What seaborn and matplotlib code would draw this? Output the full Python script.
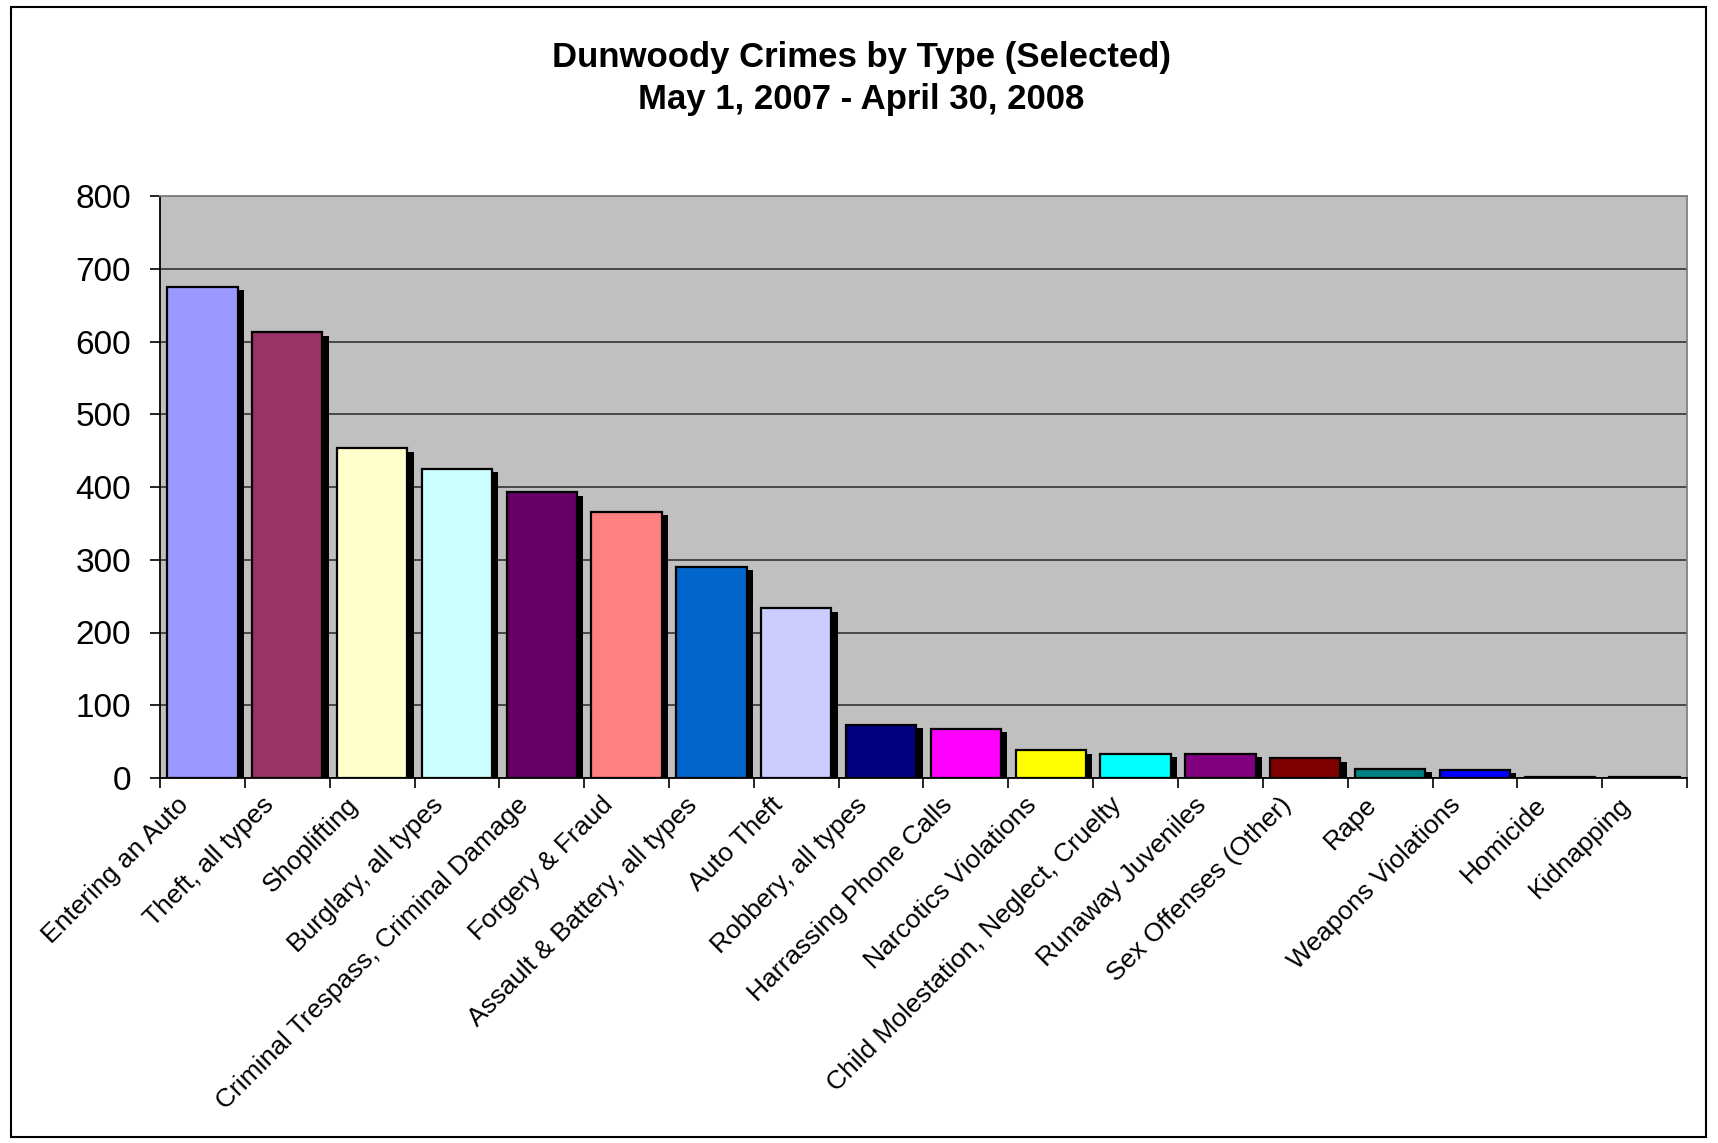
import matplotlib
matplotlib.use("Agg")
import matplotlib.pyplot as plt
import matplotlib.patheffects as pe
import matplotlib.transforms as mtransforms
from matplotlib.patches import Rectangle
from matplotlib.ticker import FixedLocator, MultipleLocator
import seaborn as sns

# Crime counts by type
crime_types = [
    "Entering an Auto", "Theft, all types", "Shoplifting", "Burglary, all types",
    "Criminal Trespass, Criminal Damage", "Forgery & Fraud", "Assault & Battery, all types",
    "Auto Theft", "Robbery, all types", "Harrassing Phone Calls", "Narcotics Violations",
    "Child Molestation, Neglect, Cruelty", "Runaway Juveniles", "Sex Offenses (Other)",
    "Rape", "Weapons Violations", "Homicide", "Kidnapping",
]
counts = [675, 613, 453, 425, 393, 366, 290, 233, 73, 68, 38, 33, 33, 27, 13, 11, 2, 2]
bar_colors = [
    "#9999FF", "#993366", "#FFFFCC", "#CCFFFF", "#660066", "#FF8080", "#0066CC",
    "#CCCCFF", "#000080", "#FF00FF", "#FFFF00", "#00FFFF", "#800080", "#800000",
    "#008080", "#0000FF", "#00CCFF", "#CCFFFF",
]
y_ticks = [0, 100, 200, 300, 400, 500, 600, 700, 800]

sns.set_theme(style="white")
plt.rcParams["font.family"] = ["Liberation Sans", "DejaVu Sans"]
plt.rcParams["text.color"] = "black"
plt.rcParams["xtick.color"] = "black"
plt.rcParams["ytick.color"] = "black"

W, H = 1718, 1143
fig = plt.figure(figsize=(W / 100, H / 100), dpi=100)
fig.patch.set_facecolor("white")

left, right, top, bottom = 160, 1687, 196, 778
ax = fig.add_axes([left / W, 1 - bottom / H, (right - left) / W, (bottom - top) / H])
ax.set_facecolor("#C0C0C0")

sns.barplot(x=crime_types, y=counts, hue=crime_types, palette=bar_colors,
            legend=False, width=0.83, edgecolor="black", linewidth=1.6,
            saturation=1, ax=ax)

# drop shadow on each bar
for p in ax.patches:
    p.set_path_effects([
        pe.SimplePatchShadow(offset=(4.5, -2.5), shadow_rgbFace="black", alpha=1.0),
        pe.Normal(),
    ])

ax.set_xlim(-0.5, len(crime_types) - 0.5)
ax.set_ylim(0, 800)
ax.yaxis.set_major_locator(FixedLocator(y_ticks))
ax.set_yticklabels([str(t) for t in y_ticks], fontsize=24, color="black")
ax.grid(axis="y", color="#333333", linewidth=1.2)
ax.grid(axis="x", visible=False)
ax.set_axisbelow(True)

# ticks between categories
ax.xaxis.set_minor_locator(MultipleLocator(1, offset=0.5))
ax.tick_params(axis="x", which="major", length=0, pad=12)
ax.tick_params(axis="x", which="minor", length=7, width=1.2, color="black", direction="out", bottom=True)
ax.tick_params(axis="y", which="major", length=7, width=1.2, color="black", direction="out", left=True, pad=14)
ax.set_xticks(range(len(crime_types)))
ax.set_xticklabels(crime_types, rotation=45, ha="right", rotation_mode="anchor", fontsize=19, color="black")
shift = mtransforms.ScaledTranslation(-26 / 100, 2 / 100, fig.dpi_scale_trans)
for lbl in ax.get_xticklabels():
    lbl.set_transform(lbl.get_transform() + shift)
ax.set_xlabel("")
ax.set_ylabel("")

for side in ("left", "bottom"):
    ax.spines[side].set_color("black")
    ax.spines[side].set_linewidth(1.3)
for side in ("top", "right"):
    ax.spines[side].set_color("#808080")
    ax.spines[side].set_linewidth(1.3)
    ax.spines[side].set_visible(True)

fig.text(861 / W, 1 - 57 / H, "Dunwoody Crimes by Type (Selected)", ha="center", va="center",
         fontsize=25, fontweight="bold", color="black")
fig.text(861 / W, 1 - 99 / H, "May 1, 2007 - April 30, 2008", ha="center", va="center",
         fontsize=25, fontweight="bold", color="black")

# outer chart border
fig.patches.append(Rectangle((11 / W, 1 - 1137 / H), (1706 - 11) / W, (1137 - 7) / H,
                             transform=fig.transFigure, fill=False, edgecolor="black",
                             linewidth=1.5))

fig.savefig("out.png", dpi=100)
